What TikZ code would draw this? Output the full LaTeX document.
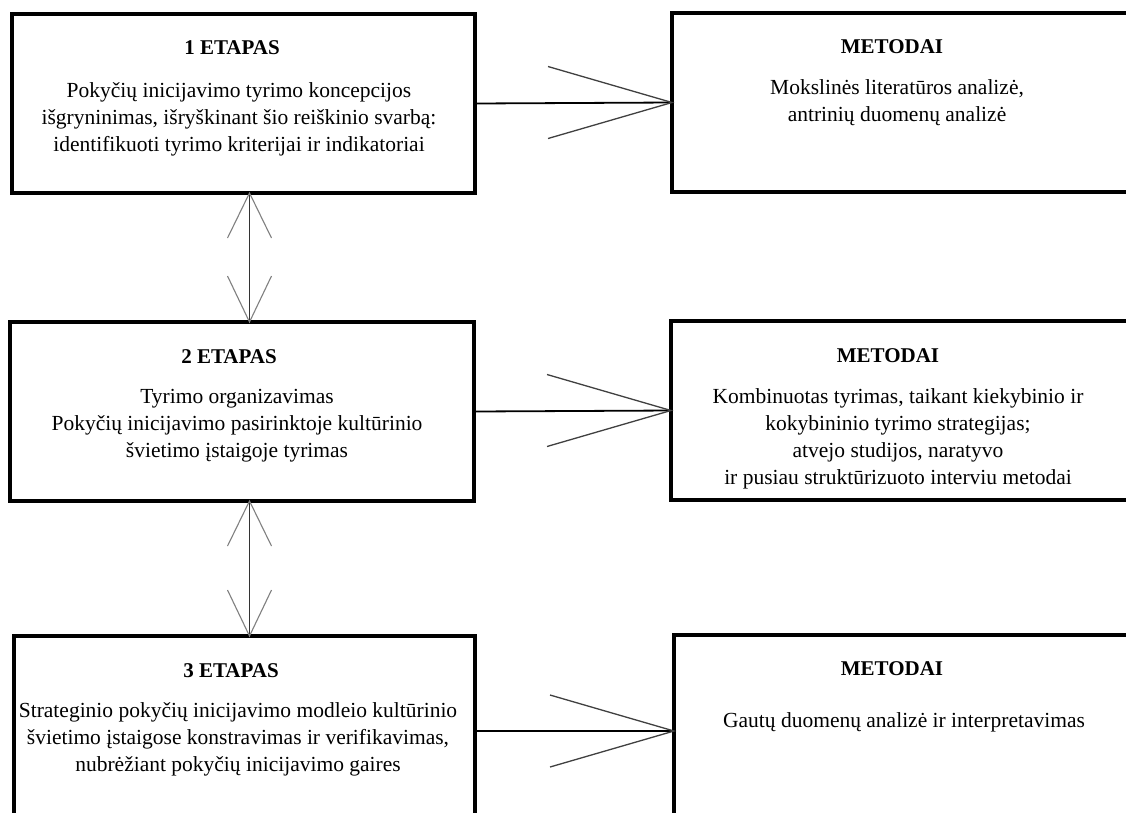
\documentclass[tikz,border=0pt]{standalone}
\usepackage{fontspec}
\setmainfont{Liberation Serif}
\usetikzlibrary{calc}
\begin{document}
\begin{tikzpicture}[x=1pt,y=-1pt,
  stagebox/.style={draw=black, line width=4pt, inner sep=0pt, outer sep=0pt},
  boxtitle/.style={font=\fontsize{21}{27}\selectfont\bfseries, anchor=base, inner sep=0pt},
  boxtext/.style={font=\fontsize{21.5}{27}\selectfont, align=center, anchor=north, inner sep=0pt},
  link/.style={line width=1.8pt, black},
  barb/.style={line width=1.3pt, black!75},
  vlink/.style={line width=1.4pt, black!80},
  vbarb/.style={line width=1.1pt, black!50}]
\clip (0,0) rectangle (1126,812);
\fill[white] (0,0) rectangle (1126,812);

% stage boxes (left column)
\node[stagebox, minimum width=463pt, minimum height=179pt] (e1) at (243.5,103.5) {};
\node[stagebox, minimum width=464pt, minimum height=179pt] (e2) at (242,411.5) {};
\node[stagebox, minimum width=461pt, minimum height=190pt] (e3) at (244.5,731) {};

% method boxes (right column)
\node[stagebox, minimum width=458pt, minimum height=179pt] (m1) at (901,102.5) {};
\node[stagebox, minimum width=459pt, minimum height=179pt] (m2) at (900.5,410.5) {};
\node[stagebox, minimum width=456pt, minimum height=192pt] (m3) at (902,731) {};

% stage texts
\node[boxtitle] (t1) at (232,54) {1 ETAPAS};
\node[boxtext] (b1) at (239,78.1) {\strut Pokyčių inicijavimo tyrimo koncepcijos\\
  išgryninimas, išryškinant šio reiškinio svarbą:\\
  identifikuoti tyrimo kriterijai ir indikatoriai};
\node[boxtitle] (t2) at (229,363) {2 ETAPAS};
\node[boxtext] (b2) at (237,384.1) {\strut Tyrimo organizavimas\\
  Pokyčių inicijavimo pasirinktoje kultūrinio\\
  švietimo įstaigoje tyrimas};
\node[boxtitle] (t3) at (231,677) {3 ETAPAS};
\node[boxtext] (b3) at (238,698.1) {\strut Strateginio pokyčių inicijavimo modleio kultūrinio\\
  švietimo įstaigose konstravimas ir verifikavimas,\\
  nubrėžiant pokyčių inicijavimo gaires};

% method texts
\node[boxtitle] (mt1) at (892,53) {METODAI};
\node[boxtext] (mb1) at (897,75.1) {\strut Mokslinės literatūros analizė,\\
  antrinių duomenų analizė};
\node[boxtitle] (mt2) at (888,362) {METODAI};
\node[boxtext] (mb2) at (898,384.1) {\strut Kombinuotas tyrimas, taikant kiekybinio ir\\
  kokybininio tyrimo strategijas;\\
  atvejo studijos, naratyvo\\
  ir pusiau struktūrizuoto interviu metodai};
\node[boxtitle] (mt3) at (892,675) {METODAI};
\node[boxtext] (mb3) at (904,708.1) {\strut Gautų duomenų analizė ir interpretavimas};

% stage -> method connectors with open barbs
\foreach \s/\m in {e1/m1, e2/m2, e3/m3} {
  \draw[link] (\s.east) -- (\m.west);
  \draw[barb] ($(\m.west)+(-124,-36)$) -- (\m.west) -- ($(\m.west)+(-124,36)$);
}

% two-way connectors between stages
\coordinate (axis) at (249.5,0);
\foreach \a/\b in {e1/e2, e2/e3} {
  \draw[vlink] (\a.south -| axis) -- (\b.north -| axis);
  \draw[vbarb] ($(\a.south -| axis)+(-22,45)$) -- (\a.south -| axis) -- ($(\a.south -| axis)+(22,45)$);
  \draw[vbarb] ($(\b.north -| axis)+(-22,-46)$) -- (\b.north -| axis) -- ($(\b.north -| axis)+(22,-46)$);
}
\end{tikzpicture}
\end{document}
